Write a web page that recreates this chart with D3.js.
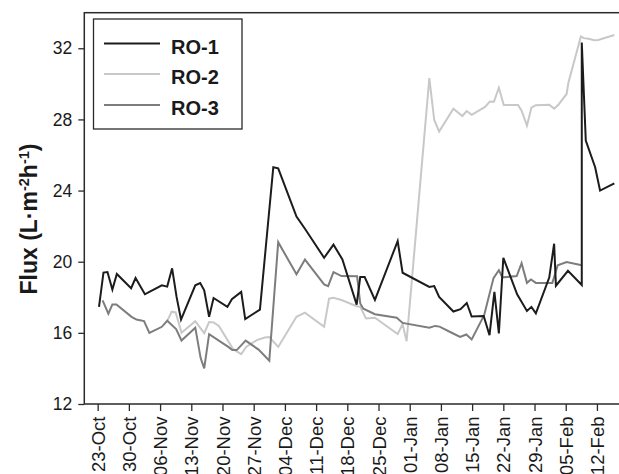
<!DOCTYPE html>
<html>
<head>
<meta charset="utf-8">
<script src="https://cdn.jsdelivr.net/npm/d3@7"></script>
<style>
  html, body { margin: 0; padding: 0; background: #fff; }
  svg { display: block; font-family: "Liberation Sans", Arial, sans-serif; }
</style>
</head>
<body>
<svg id="chart" width="619" height="474"></svg>
<script>
// ---- data (x = days since 23-Oct) ----
const tickDays = [0,7,14,21,28,35,42,49,56,63,70,77,84,91,98,105,112];
const tickLabels = ["23-Oct","30-Oct","06-Nov","13-Nov","20-Nov","27-Nov","04-Dec","11-Dec","18-Dec","25-Dec","01-Jan","08-Jan","15-Jan","22-Jan","29-Jan","05-Feb","12-Feb"];
const yTicks = [12,16,20,24,28,32];

const ro1Days = [0.3,1.3,2.2,3.3,4.3,7.5,8.5,10.6,11.7,14.4,15.6,16.7,17.7,18.7,21.9,23.0,23.9,25.0,26.0,29.1,30.1,32.2,33.1,36.4,39.4,40.5,44.6,46.5,50.8,52.9,54.9,58.1,58.9,59.9,62.2,67.3,68.4,74.4,75.5,76.6,79.8,81.4,82.8,83.9,86.6,87.9,89.0,90.0,91.0,94.1,96.3,97.3,98.3,101.3,102.4,102.8,105.5,108.6,108.6,109.5,111.6,112.7,115.9];
const ro1Flux = [17.46,19.39,19.42,18.43,19.31,18.51,19.08,18.17,18.32,18.67,18.60,19.63,18.02,16.75,18.67,18.80,18.39,16.90,17.96,17.46,17.89,18.30,16.77,17.31,25.31,25.25,22.54,21.85,20.22,20.96,20.13,17.59,19.14,19.14,17.85,21.16,19.38,18.58,18.63,18.02,17.20,17.33,17.68,16.92,16.95,15.87,18.30,15.97,20.22,18.17,17.23,17.46,17.10,19.11,21.01,18.65,19.49,18.69,32.32,26.81,25.31,24.00,24.41];

const ro2Days = [15.6,16.6,17.5,18.8,21.9,23.9,25.0,26.0,27.2,30.4,32.2,33.3,35.7,37.5,38.5,40.5,44.6,46.5,50.8,51.9,52.9,54.7,58.1,58.9,60.2,62.2,67.3,68.4,69.3,74.4,75.5,76.6,79.8,81.8,82.8,83.9,86.9,88.0,88.9,90.0,91.1,94.3,95.1,96.3,97.3,98.3,101.3,102.4,103.3,105.2,105.6,108.4,109.1,110.1,111.4,112.3,115.9];
const ro2Flux = [16.66,17.19,17.15,16.00,16.66,15.98,16.61,16.59,16.39,15.08,14.80,15.21,15.59,15.74,15.76,15.21,16.90,17.14,16.34,17.92,17.97,17.85,17.50,17.46,16.81,16.85,15.93,16.50,15.53,30.32,27.97,27.32,28.60,28.19,28.47,28.26,28.70,29.01,28.99,29.78,28.81,28.81,28.49,27.65,28.66,28.80,28.83,28.61,28.81,29.43,30.06,32.66,32.57,32.54,32.45,32.47,32.75];

const ro3Days = [1.1,2.4,3.3,4.2,7.6,8.7,10.4,11.6,14.4,15.6,17.6,18.8,21.9,23.1,23.9,25.0,29.3,30.2,31.2,33.2,36.1,38.5,40.5,44.6,46.5,50.8,51.7,52.9,54.7,58.2,58.9,59.6,62.2,67.1,68.4,74.4,75.7,76.7,79.3,81.3,82.7,83.9,86.7,88.8,90.0,90.8,94.0,95.1,96.3,97.2,98.3,102.0,103.2,105.2,108.6];
const ro3Flux = [17.83,17.08,17.60,17.60,16.90,16.75,16.66,16.00,16.34,16.68,16.21,15.57,16.29,14.58,14.00,15.93,15.21,15.04,15.03,15.56,15.06,14.44,21.10,19.29,20.12,18.72,18.63,19.42,19.19,19.18,17.65,17.36,17.05,16.85,16.56,16.29,16.39,16.35,16.02,15.77,15.91,15.63,16.99,19.08,19.52,19.12,19.19,19.92,18.81,19.00,18.81,18.81,19.80,19.98,19.80];

const seriesNames = ["RO-1","RO-2","RO-3"];
const seriesColors = ["#1c1c1c","#c8c8c8","#7d7d7d"];

// ---- layout ----
const svg = d3.select("#chart");
const plotL = 84.3, plotR = 621, plotT = 12.7, plotB = 404;

const x = d3.scaleLinear().domain([-3, 117.4]).range([plotL, plotR]);
const y = d3.scaleLinear().domain([12, 34]).range([plotB, plotT]);

const series = [
  {name: seriesNames[0], color: seriesColors[0], days: ro1Days, flux: ro1Flux},
  {name: seriesNames[1], color: seriesColors[1], days: ro2Days, flux: ro2Flux},
  {name: seriesNames[2], color: seriesColors[2], days: ro3Days, flux: ro3Flux}
];

const line = d3.line().x(d => x(d[0])).y(d => y(d[1]));

// draw order: RO-2, RO-3, RO-1
[1,2,0].forEach(i => {
  const s = series[i];
  svg.append("path")
    .datum(s.days.map((d, k) => [d, s.flux[k]]))
    .attr("fill", "none")
    .attr("stroke", s.color)
    .attr("stroke-width", 2)
    .attr("stroke-linejoin", "miter")
    .attr("d", line);
});

// frame
svg.append("rect")
  .attr("x", plotL).attr("y", plotT)
  .attr("width", plotR - plotL).attr("height", plotB - plotT)
  .attr("fill", "none").attr("stroke", "#2a2a2a").attr("stroke-width", 1.5);

// y axis
const yAxis = d3.axisLeft(y).tickValues(yTicks).tickSize(6).tickSizeOuter(0);
const gy = svg.append("g").attr("transform", `translate(${plotL},0)`).call(yAxis);
gy.select(".domain").remove();
gy.selectAll("line").attr("stroke", "#2a2a2a").attr("stroke-width", 1.3);
gy.selectAll("text").attr("font-size", 17.5).attr("fill", "#1a1a1a")
  .attr("font-family", "Liberation Sans, Arial, sans-serif").attr("x", -12);

// x axis
const xAxis = d3.axisBottom(x).tickValues(tickDays)
  .tickFormat((d, i) => tickLabels[i]).tickSize(7).tickSizeOuter(0);
const gx = svg.append("g").attr("transform", `translate(0,${plotB})`).call(xAxis);
gx.select(".domain").remove();
gx.selectAll("line").attr("stroke", "#2a2a2a").attr("stroke-width", 1.3);
gx.selectAll("text")
  .attr("font-size", 18.5).attr("fill", "#1a1a1a")
  .attr("font-family", "Liberation Sans, Arial, sans-serif")
  .attr("transform", "rotate(-90)")
  .attr("text-anchor", "end")
  .attr("x", -12.5).attr("y", 0).attr("dy", "0.36em");

// y title
const title = svg.append("text")
  .attr("transform", "translate(37,219) rotate(-90)")
  .attr("text-anchor", "middle")
  .attr("font-size", 23).attr("font-weight", "bold").attr("fill", "#1a1a1a");
title.append("tspan").text("Flux (L·m");
title.append("tspan").text("-2").attr("font-size", 14.5).attr("dy", -8.5);
title.append("tspan").text("h").attr("dy", 8.5);
title.append("tspan").text("-1").attr("font-size", 14.5).attr("dy", -8.5);
title.append("tspan").text(")").attr("dy", 8.5);

// legend
const lg = svg.append("g");
lg.append("rect").attr("x", 93.5).attr("y", 19).attr("width", 148.5).attr("height", 110)
  .attr("fill", "#fff").attr("stroke", "#2a2a2a").attr("stroke-width", 1.3);
const rowY = [43.5, 74, 105];
series.forEach((s, i) => {
  lg.append("line").attr("x1", 104).attr("x2", 160).attr("y1", rowY[i]).attr("y2", rowY[i])
    .attr("stroke", s.color).attr("stroke-width", 2);
  lg.append("text").attr("x", 171).attr("y", rowY[i] + 10)
    .attr("font-size", 20).attr("font-weight", "bold").attr("fill", "#1a1a1a")
    .text(s.name);
});
</script>
</body>
</html>
